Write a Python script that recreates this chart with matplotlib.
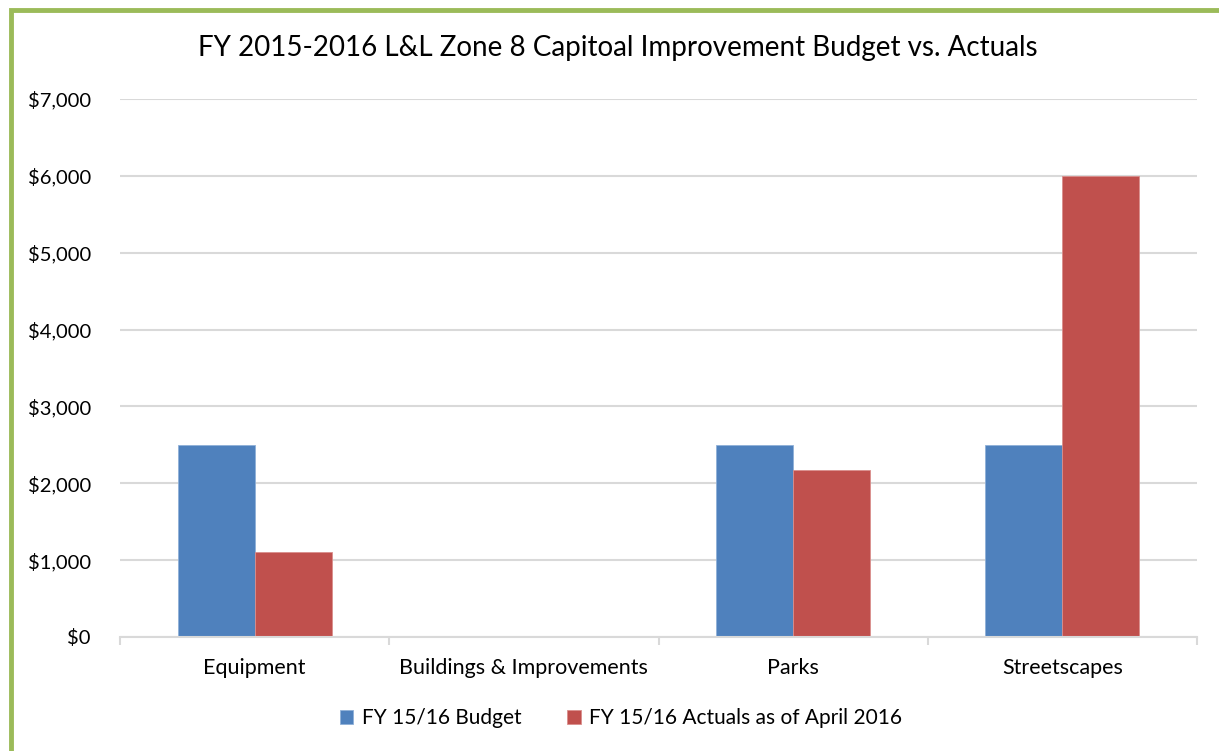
import matplotlib.pyplot as plt
from matplotlib.patches import Rectangle
from matplotlib.ticker import FuncFormatter
import numpy as np

# data
categories = ['Equipment', 'Buildings & Improvements', 'Parks', 'Streetscapes']
budget = [2500, 0, 2500, 2500]
actuals = [1100, 0, 2170, 6000]
series_names = ['FY 15/16 Budget', 'FY 15/16 Actuals as of April 2016']

plt.rcParams['font.family'] = ['Lato', 'DejaVu Sans']

fig = plt.figure(figsize=(12.19, 7.51), dpi=100)
ax = fig.add_axes([120 / 1219, 1 - 637 / 751, (1197 - 120) / 1219, (637 - 99) / 751])

x = np.arange(len(categories))
w = 0.286
ax.bar(x - w / 2, budget, w, color='#4F81BD', edgecolor='#8FB0D8', linewidth=0.6, label=series_names[0], zorder=3)
ax.bar(x + w / 2, actuals, w, color='#C0504D', edgecolor='#DA8E8C', linewidth=0.6, label=series_names[1], zorder=3)

ax.set_xlim(-0.5, len(categories) - 0.5)
ax.set_ylim(0, 7000)
ax.set_yticks(np.arange(0, 7001, 1000))
ax.yaxis.set_major_formatter(FuncFormatter(lambda v, p: '${:,.0f}'.format(v)))
ax.grid(axis='y', color='#D9D9D9', linewidth=1.5, zorder=0)
ax.tick_params(axis='y', length=0, pad=21, labelsize=14.5, labelcolor='#000000')

# category boundary ticks
ax.set_xticks(np.arange(-0.5, len(categories), 1.0))
ax.set_xticklabels([])
ax.set_xticks(x, minor=True)
ax.set_xticklabels(categories, minor=True)
ax.tick_params(axis='x', which='major', length=6, width=1.5, color='#D9D9D9', direction='out')
ax.tick_params(axis='x', which='minor', length=0, pad=15, labelsize=15.5)

for s in ['left', 'right', 'top']:
    ax.spines[s].set_visible(False)
ax.spines['bottom'].set_color('#D9D9D9')
ax.spines['bottom'].set_linewidth(1.5)
ax.spines['bottom'].set_zorder(4)

fig.text(618 / 1219, 1 - 48 / 751, 'FY 2015-2016 L&L Zone 8 Capitoal Improvement Budget vs. Actuals',
         ha='center', va='center', fontsize=20)

leg = fig.legend(loc='center', bbox_to_anchor=(621 / 1219, 1 - 718 / 751), ncol=2, frameon=False,
                 fontsize=15, handlelength=0.65, handleheight=0.65, handletextpad=0.4, columnspacing=2.2)

# green frame, open to the right and bottom
fig.patches.append(Rectangle((11 / 1219, -0.1), 1.2, 1 - 10 / 751 + 0.1, transform=fig.transFigure,
                             fill=False, edgecolor='#9BBB59', linewidth=3.5))

fig.savefig('out.png', dpi=100)
